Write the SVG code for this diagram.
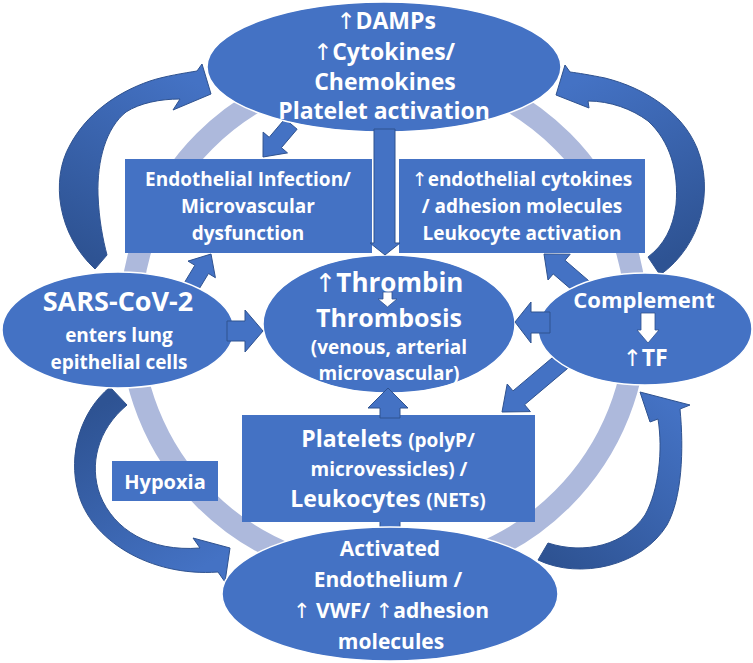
<svg xmlns="http://www.w3.org/2000/svg" width="753" height="663" viewBox="0 0 753 663">
<style>
.n{fill:#4472C4;stroke:#fff;stroke-width:1.5}
.bx{fill:#4472C4}
.ba{fill:#4472C4;stroke:#2F528F;stroke-width:1}
.wa{fill:#fff;stroke:#2F528F;stroke-width:0.8}
.ca{stroke:#2F528F;stroke-width:1}
.t{font-family:'Open Sans','DejaVu Sans',sans-serif;font-weight:700;fill:#fff;text-anchor:middle}
.ar{font-family:'DejaVu Sans',sans-serif;font-weight:400}
</style>
<defs>
<linearGradient id="gA" gradientUnits="userSpaceOnUse" x1="100" y1="262" x2="200" y2="85"><stop offset="0" stop-color="#2E5393"/><stop offset="1" stop-color="#4472C4"/></linearGradient>
<linearGradient id="gB" gradientUnits="userSpaceOnUse" x1="655" y1="265" x2="570" y2="85"><stop offset="0" stop-color="#2E5393"/><stop offset="1" stop-color="#4472C4"/></linearGradient>
<linearGradient id="gC" gradientUnits="userSpaceOnUse" x1="118" y1="396" x2="215" y2="560"><stop offset="0" stop-color="#2E5393"/><stop offset="1" stop-color="#4472C4"/></linearGradient>
<linearGradient id="gD" gradientUnits="userSpaceOnUse" x1="543" y1="552" x2="670" y2="405"><stop offset="0" stop-color="#2E5393"/><stop offset="1" stop-color="#4472C4"/></linearGradient>
</defs>
<rect width="753" height="663" fill="#fff"/>
<g id="ring"><circle cx="383.5" cy="320" r="253" fill="none" stroke="#ADB9DC" stroke-width="22"/></g>
<g id="connectors">
<path class="ca" fill="url(#gA)" d="M95,269 C58,235 50,180 70,145 C86,115 115,93 150,81 C165,76 185,73 197,71 L202,64 L211,94 L173,110 L180,99 C160,99 140,103 126,112 C106,128 97,160 98,195 C99,220 103,240 107,255 Z"/>
<path class="ca" fill="url(#gB)" d="M660,275 C702,245 714,190 697,148 C682,112 645,88 605,78 C590,75 578,73 570,72 L565,65 L556,95 L589,108 L588,101 C610,101 632,109 648,121 C670,141 679,172 676,205 C673,228 664,245 648,257 Z"/>
<path class="ca" fill="url(#gC)" d="M110,387 C80,412 68,455 78,492 C90,540 150,577 218,572 L225,582 L230,548 L193,538 L200,548 C150,552 114,530 100,495 C89,465 97,430 127,405 Z"/>
<path class="ca" fill="url(#gD)" d="M538,560 C580,580 642,566 667,525 C682,498 684,450 680,409 L690,405 L640,392 L650,422 L658,419 C663,450 659,490 645,515 C625,545 585,555 548,543 Z"/>
<polygon class="ba" points="284.9,118.8 269.2,137.3 263.1,132.1 263,157 287.5,152.9 281.4,147.7 297.1,129.2"/>
<polygon class="ba" points="181.2,287.9 194.9,265.3 188,261.1 211,254 215.4,277.7 208.5,273.5 194.8,296.1"/>
<polygon class="ba" points="582.1,298.8 553.2,273.9 548,280 544,254 570.2,254.2 565,260.3 593.9,285.2"/>
<polygon class="ba" points="560.2,351.1 513,390.9 507.2,384 502,412 530.4,411.6 524.6,404.7 571.8,364.9"/>
<rect class="ba" x="380" y="518" width="20" height="14"/>
</g>
<g id="n-damps"><ellipse class="n" cx="384" cy="67" rx="177" ry="65"/>
<text class="t" font-size="23"><tspan x="386" y="29"><tspan class="ar">↑</tspan>DAMPs</tspan><tspan x="384" y="60"><tspan class="ar">↑</tspan>Cytokines/</tspan><tspan x="385" y="90">Chemokines</tspan><tspan x="384" y="119">Platelet activation</tspan></text></g>
<g id="n-endo-inf"><rect class="bx" x="125" y="159" width="247" height="94"/>
<text class="t" font-size="19"><tspan x="248" y="186">Endothelial Infection/</tspan><tspan x="248" y="213">Microvascular</tspan><tspan x="248" y="240">dysfunction</tspan></text></g>
<g id="n-endo-cyt"><rect class="bx" x="399" y="159" width="246" height="94"/>
<text class="t" font-size="19"><tspan x="522" y="186"><tspan class="ar">↑</tspan>endothelial cytokines</tspan><tspan x="522" y="213">/ adhesion molecules</tspan><tspan x="522" y="240">Leukocyte activation</tspan></text></g>
<g id="n-sars"><ellipse class="n" cx="118" cy="330" rx="116" ry="58"/>
<text class="t"><tspan x="118" y="311" font-size="27">SARS-CoV-2</tspan><tspan x="119" y="342" font-size="19">enters lung</tspan><tspan x="119" y="369" font-size="19">epithelial cells</tspan></text></g>
<g id="n-complement"><ellipse class="n" cx="645" cy="329" rx="107" ry="56"/>
<text class="t"><tspan x="644" y="308" font-size="22">Complement</tspan><tspan x="645" y="366" font-size="23"><tspan class="ar">↑</tspan>TF</tspan></text>
<path class="wa" d="M641,313 H655 V330 H659 L648,343 L637,330 H641 Z"/></g>
<g id="n-thrombin"><ellipse class="n" cx="389" cy="324" rx="126" ry="69"/>
<text class="t"><tspan x="389" y="292" font-size="26"><tspan class="ar">↑</tspan>Thrombin</tspan><tspan x="389" y="327" font-size="25">Thrombosis</tspan><tspan x="389" y="354" font-size="19">(venous, arterial</tspan><tspan x="389" y="380" font-size="19">microvascular)</tspan></text>
<path class="wa" d="M383,292 H392 V299 H397 L387.5,307 L378,299 H383 Z"/></g>
<g id="n-activated"><ellipse class="n" cx="390" cy="594" rx="168" ry="67"/>
<text class="t" font-size="21"><tspan x="390" y="556">Activated</tspan><tspan x="388" y="587">Endothelium /</tspan><tspan x="391" y="618"><tspan class="ar">↑</tspan> VWF/ <tspan class="ar">↑</tspan>adhesion</tspan><tspan x="391" y="649">molecules</tspan></text></g>
<g id="n-platelets"><rect class="bx" x="242" y="415" width="293" height="107"/>
<text class="t"><tspan x="388" y="447" font-size="23">Platelets <tspan font-size="19">(polyP/</tspan></tspan><tspan x="389" y="476" font-size="19">microvessicles) /</tspan><tspan x="388" y="507" font-size="23">Leukocytes <tspan font-size="19">(NETs)</tspan></tspan></text></g>
<g id="n-hypoxia"><rect class="bx" x="112" y="461" width="106" height="40"/>
<text class="t" font-size="20" x="165" y="489">Hypoxia</text></g>
<g id="connectors-front">
<polygon class="ba" points="374,129 395,129 395,243 400,243 385,255 370,243 374,243"/>
<polygon class="ba" points="227,321 245,321 245,310 263,331 245,352 245,341 227,341"/>
<polygon class="ba" points="550,312 531,312 531,302 515,322 531,343 531,333 550,333"/>
<polygon class="ba" points="380,418 400,418 400,408 408,408 388,388 368,408 380,408"/>
</g>
</svg>
